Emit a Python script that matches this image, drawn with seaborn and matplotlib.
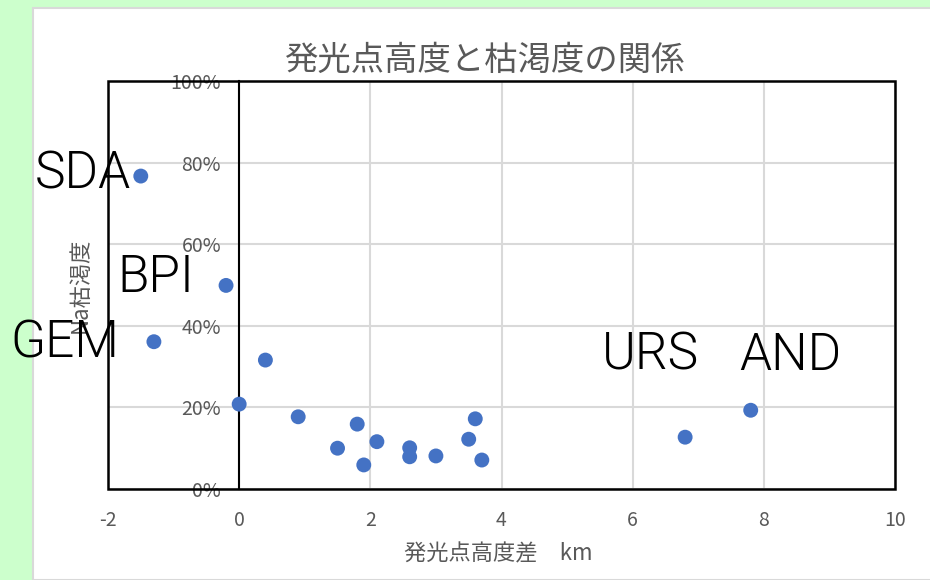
import matplotlib
matplotlib.use("Agg")
import matplotlib.pyplot as plt
from matplotlib.patches import Rectangle
import pandas as pd
import seaborn as sns

# Emission-point height difference (km) and Na depletion ratio
height_diff_km = [-1.5, -0.2, -1.3, 0.4, 0.0, 0.9, 1.8, 1.5, 1.9, 2.1,
                  2.6, 2.6, 3.0, 3.6, 3.5, 3.7, 6.8, 7.8]
na_depletion = [0.767, 0.499, 0.361, 0.316, 0.208, 0.177, 0.159, 0.100, 0.059, 0.116,
                0.101, 0.079, 0.081, 0.172, 0.122, 0.071, 0.127, 0.193]

x_ticks = [-2, 0, 2, 4, 6, 8, 10]
y_ticks = [0.0, 0.2, 0.4, 0.6, 0.8, 1.0]
y_tick_labels = ["0%", "20%", "40%", "60%", "80%", "100%"]

title = "発光点高度と枯渇度の関係"
x_label = "発光点高度差　km"
y_label = "Na枯渇度"

# Shower names written over the chart
shower_names = ["SDA", "BPI", "GEM", "URS", "AND"]
shower_name_px = [(35, 189), (117, 292), (10, 357), (602, 370), (739, 370)]

df = pd.DataFrame({"diff": height_diff_km, "depl": na_depletion})

sns.set_theme(style="white")
plt.rcParams["font.family"] = ["Noto Sans CJK JP", "DejaVu Sans"]
plt.rcParams["axes.unicode_minus"] = False

W, H = 930, 580
fig = plt.figure(figsize=(W / 100, H / 100), dpi=100, facecolor="#ccffcc")

# White chart sheet with a thin grey border, kept behind the axes
fig.patches.append(Rectangle((33 / W, 0), 1, 1 - 8 / H, transform=fig.transFigure,
                             facecolor="white", edgecolor="#d9d9d9", linewidth=1.5,
                             zorder=-5))

ax = fig.add_axes([108 / W, 1 - 489 / H, (895 - 108) / W, (489 - 81) / H])
ax.set_facecolor("none")

sns.scatterplot(data=df, x="diff", y="depl", ax=ax, s=115, color="#4472C4",
                edgecolor="none", linewidth=0, zorder=5, clip_on=False)

ax.set_xlim(-2, 10)
ax.set_ylim(0, 1)
ax.set_xticks(x_ticks)
ax.set_yticks(y_ticks)
ax.set_yticklabels(y_tick_labels)
ax.grid(True, color="#d9d9d9", linewidth=1.5, zorder=0)
ax.set_axisbelow(True)

grey = "#595959"
ax.tick_params(axis="both", length=0, colors=grey, labelsize=14)
ax.tick_params(axis="x", pad=15)
ax.tick_params(axis="y", pad=13)

# Vertical axis crosses at x = 0
for side in ["top", "right", "bottom"]:
    ax.spines[side].set_visible(False)
ax.spines["left"].set_position(("data", 0))
ax.spines["left"].set_color("black")
ax.spines["left"].set_linewidth(1.5)
ax.spines["left"].set_zorder(4)

# Plot-area border
ax.add_patch(Rectangle((0, 0), 1, 1, transform=ax.transAxes, fill=False,
                       edgecolor="black", linewidth=1.8, zorder=6, clip_on=False))

ax.set_xlabel(x_label, color=grey, fontsize=16, va="center")
ax.xaxis.set_label_coords((498 - 108) / 787, -(554 - 489) / 408)
ax.set_ylabel(y_label, color=grey, fontsize=16, va="center", ha="center")
ax.yaxis.set_label_coords((80 - 108) / 787, 0.5)

fig.text(485 / W, 1 - 60 / H, title, color=grey, fontsize=24,
         ha="center", va="center")

for name, (px, py) in zip(shower_names, shower_name_px):
    fig.text(px / W, 1 - py / H, name, color="black", fontsize=37,
             family=["Roboto", "Noto Sans CJK JP"], fontweight=300,
             ha="left", va="baseline", zorder=10)

fig.savefig("out.png", dpi=100, facecolor=fig.get_facecolor())
